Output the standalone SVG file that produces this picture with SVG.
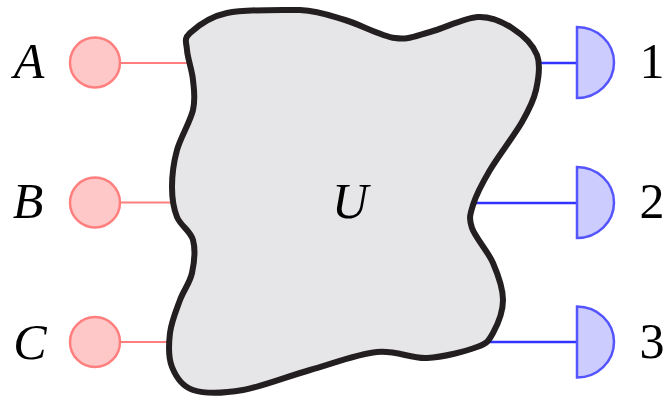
<svg xmlns="http://www.w3.org/2000/svg" width="666" height="398" viewBox="0 0 666 398">
<style>
.lbl{font-family:"Liberation Serif","DejaVu Serif",serif;font-size:50px;fill:#000}
.it{font-style:italic}
.src{fill:#ffc8c8;stroke:#ff7f7f;stroke-width:2.5}
.det{fill:#ccccff;stroke:#5555ff;stroke-width:2.5}
.pl{stroke:#ff7f7f;stroke-width:2;fill:none}
.bl{stroke:#3333ff;stroke-width:2.5;fill:none}
</style>
<g id="connectors">
<line class="pl" x1="120" y1="63" x2="195" y2="63"/>
<line class="pl" x1="120" y1="202.5" x2="180" y2="202.5"/>
<line class="pl" x1="120" y1="342" x2="175" y2="342"/>
<line class="bl" x1="530" y1="63" x2="577" y2="63"/>
<line class="bl" x1="470" y1="203" x2="577" y2="203"/>
<line class="bl" x1="475" y1="342" x2="577" y2="342"/>
</g>
<g id="U">
<path d="M190,33 C196.67,26.83 208.67,16.83 227,13 C245.33,9.17 282.83,9.83 300,10 C319.67,11.17 329.17,15.33 345,20 C360.83,24.67 380.830,36 395,38 C409.17,40 416.17,35.5 430,32 C443.83,28.5 464.33,17.67 478,17 C491.67,16.33 502.17,21.67 512,28 C521.83,34.33 533,44.67 537,55 C541,65.33 538.5,78.83 536,90 C533.5,101.17 529.67,108.67 522,122 C514.33,135.33 498.17,156.17 490,170 C481.83,183.83 476,195.33 473,205 C470,214.67 468.67,218.33 472,228 C475.33,237.67 487.83,251 493,263 C498.17,275 503,288.33 503,300 C503,311.67 497.33,325.17 493,333 C488.67,340.83 488,342.83 477,347 C466,351.17 443.67,357.17 427,358 C410.33,358.83 396.5,350 377,352 C357.5,354 332.33,363.67 310,370 C287.67,376.33 262.5,386.67 243,390 C223.5,393.33 204.83,393.83 193,390 C181.17,386.17 175.83,376.5 172,367 C168.17,357.5 168.67,344.17 170,333 C171.33,321.83 176.33,310 180,300 C183.67,290 189.83,283 192,273 C194.17,263 195.5,249.33 193,240 C190.5,230.67 180.5,225.83 177,217 C173.5,208.17 172,198.17 172,187 C172,175.83 173.5,162.83 177,150 C180.5,137.17 190.33,121.67 193,110 C195.67,98.33 194,90 193,80 C192,70 187.5,57.83 187,50 C186.5,42.17 183.33,39.17 190,33 Z" fill="#e6e6e8" stroke="#231f20" stroke-width="6" stroke-linejoin="round"/>
<text class="lbl it" x="350" y="218" text-anchor="middle">U</text>
</g>
<g id="A">
<circle class="src" cx="95" cy="62.5" r="25"/>
<text class="lbl it" x="29" y="78" text-anchor="middle">A</text>
</g>
<g id="B">
<circle class="src" cx="95" cy="202.5" r="25"/>
<text class="lbl it" x="28" y="218" text-anchor="middle">B</text>
</g>
<g id="C">
<circle class="src" cx="95" cy="342" r="25"/>
<text class="lbl it" x="30" y="359" text-anchor="middle">C</text>
</g>
<g id="D1">
<path class="det" d="M577,27 A37,35.5 0 0 1 577,98 Z"/>
<text class="lbl" x="652" y="78" text-anchor="middle">1</text>
</g>
<g id="D2">
<path class="det" d="M577,167 A37,35.5 0 0 1 577,238 Z"/>
<text class="lbl" x="652" y="218" text-anchor="middle">2</text>
</g>
<g id="D3">
<path class="det" d="M577,306.5 A37,35.5 0 0 1 577,377.5 Z"/>
<text class="lbl" x="652" y="358" text-anchor="middle">3</text>
</g>
</svg>
